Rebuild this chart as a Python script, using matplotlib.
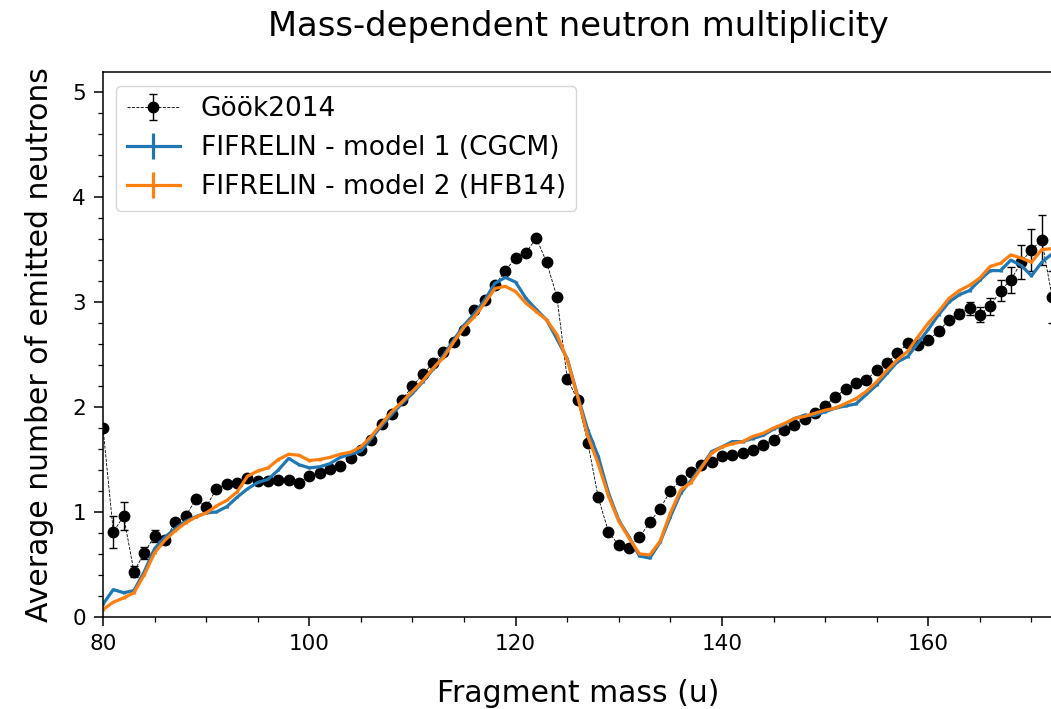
import matplotlib
matplotlib.use("Agg")
import matplotlib.pyplot as plt
import numpy as np

# Fragment masses (u)
mass = np.arange(80, 173)

# Gook2014 measured multiplicity and uncertainties
gook = [1.80, 0.81, 0.96, 0.43, 0.61, 0.77, 0.73, 0.90, 0.96, 1.12,
        1.05, 1.22, 1.27, 1.28, 1.32, 1.29, 1.29, 1.30, 1.30, 1.28,
        1.34, 1.37, 1.41, 1.44, 1.51, 1.59, 1.69, 1.84, 1.93, 2.07,
        2.20, 2.31, 2.42, 2.52, 2.62, 2.73, 2.92, 3.02, 3.16, 3.30,
        3.42, 3.47, 3.61, 3.38, 3.05, 2.27, 2.07, 1.66, 1.14, 0.81,
        0.68, 0.66, 0.76, 0.90, 1.03, 1.20, 1.30, 1.38, 1.45, 1.48,
        1.53, 1.54, 1.56, 1.59, 1.64, 1.69, 1.78, 1.83, 1.89, 1.94,
        2.01, 2.10, 2.17, 2.23, 2.26, 2.35, 2.42, 2.51, 2.61, 2.59,
        2.64, 2.72, 2.83, 2.89, 2.94, 2.88, 2.96, 3.11, 3.21, 3.38,
        3.50, 3.59, 3.05]
gook_err = [0.02, 0.15, 0.13, 0.05, 0.06, 0.06, 0.04, 0.03, 0.03, 0.02,
            0.02, 0.02, 0.02, 0.02, 0.02, 0.02, 0.02, 0.02, 0.02, 0.02,
            0.02, 0.02, 0.02, 0.02, 0.02, 0.02, 0.02, 0.02, 0.02, 0.02,
            0.02, 0.02, 0.02, 0.02, 0.02, 0.02, 0.02, 0.02, 0.02, 0.02,
            0.02, 0.02, 0.02, 0.02, 0.02, 0.02, 0.02, 0.02, 0.02, 0.02,
            0.02, 0.02, 0.02, 0.02, 0.02, 0.02, 0.02, 0.02, 0.02, 0.02,
            0.02, 0.02, 0.02, 0.02, 0.02, 0.02, 0.02, 0.02, 0.02, 0.02,
            0.02, 0.02, 0.02, 0.02, 0.02, 0.02, 0.02, 0.02, 0.02, 0.02,
            0.02, 0.03, 0.03, 0.04, 0.06, 0.07, 0.08, 0.10, 0.12, 0.16,
            0.20, 0.24, 0.25]

# FIFRELIN model 1 (CGCM)
model1 = [0.12, 0.26, 0.23, 0.25, 0.43, 0.65, 0.76, 0.84, 0.91, 0.955,
          0.99, 1.00, 1.05, 1.14, 1.22, 1.28, 1.31, 1.40, 1.51, 1.45,
          1.42, 1.43, 1.46, 1.52, 1.55, 1.58, 1.70, 1.82, 1.93, 2.035,
          2.13, 2.24, 2.36, 2.49, 2.64, 2.78, 2.89, 3.02, 3.18, 3.235,
          3.19, 3.035, 2.93, 2.83, 2.65, 2.46, 2.11, 1.78, 1.53, 1.18,
          0.92, 0.76, 0.58, 0.56, 0.71, 0.955, 1.18, 1.30, 1.43, 1.575,
          1.62, 1.67, 1.67, 1.70, 1.73, 1.79, 1.83, 1.89, 1.92, 1.92,
          1.955, 1.99, 2.01, 2.03, 2.12, 2.21, 2.32, 2.43, 2.48, 2.61,
          2.74, 2.88, 3.00, 3.07, 3.11, 3.21, 3.30, 3.30, 3.40, 3.35,
          3.25, 3.38, 3.46]

# FIFRELIN model 2 (HFB14)
model2 = [0.07, 0.14, 0.18, 0.23, 0.40, 0.61, 0.73, 0.82, 0.895, 0.95,
          0.99, 1.057, 1.11, 1.19, 1.34, 1.39, 1.42, 1.50, 1.55, 1.54,
          1.49, 1.50, 1.52, 1.55, 1.57, 1.62, 1.72, 1.84, 1.955, 2.05,
          2.15, 2.25, 2.37, 2.47, 2.62, 2.76, 2.86, 2.99, 3.13, 3.15,
          3.10, 2.99, 2.91, 2.83, 2.69, 2.45, 2.10, 1.72, 1.46, 1.15,
          0.91, 0.75, 0.60, 0.59, 0.72, 0.99, 1.21, 1.28, 1.42, 1.56,
          1.62, 1.65, 1.67, 1.72, 1.75, 1.80, 1.84, 1.89, 1.91, 1.94,
          1.97, 1.99, 2.035, 2.08, 2.15, 2.24, 2.35, 2.45, 2.53, 2.67,
          2.80, 2.91, 3.035, 3.11, 3.16, 3.23, 3.34, 3.37, 3.45, 3.42,
          3.38, 3.50, 3.51]
model_err = 0.01

fig = plt.figure(figsize=(10.51, 7.09), dpi=100)
# axes end just past the right edge of the figure, as in the cropped original
ax = fig.add_axes([0.098, 0.13, 0.905, 0.768])

ax.errorbar(mass, gook, yerr=gook_err, fmt='o--', color='black', lw=0.6,
            ms=7.5, elinewidth=1, capsize=3, label='Göök2014')
ax.errorbar(mass, model1, yerr=model_err, color='tab:blue', lw=2.3,
            label='FIFRELIN - model 1 (CGCM)')
ax.errorbar(mass, model2, yerr=model_err, color='tab:orange', lw=2.3,
            label='FIFRELIN - model 2 (HFB14)')

ax.set_xlim(80, 172.2)
ax.set_ylim(0, 5.19)
ax.set_xticks([80, 100, 120, 140, 160])
ax.minorticks_on()
for s in ax.spines.values():
    s.set_linewidth(1.1)
ax.tick_params(which='major', labelsize=15.5, length=6.3, width=1.1, pad=6)
ax.tick_params(which='minor', length=3.4, width=0.9)
ax.set_xlabel('Fragment mass (u)', fontsize=21.5, labelpad=18)
ax.set_ylabel('Average number of emitted neutrons', fontsize=21.5, labelpad=13)
ax.set_title('Mass-dependent neutron multiplicity', fontsize=24.3, pad=26)
ax.legend(loc='upper left', fontsize=19)

fig.savefig('out.png', dpi=100)
